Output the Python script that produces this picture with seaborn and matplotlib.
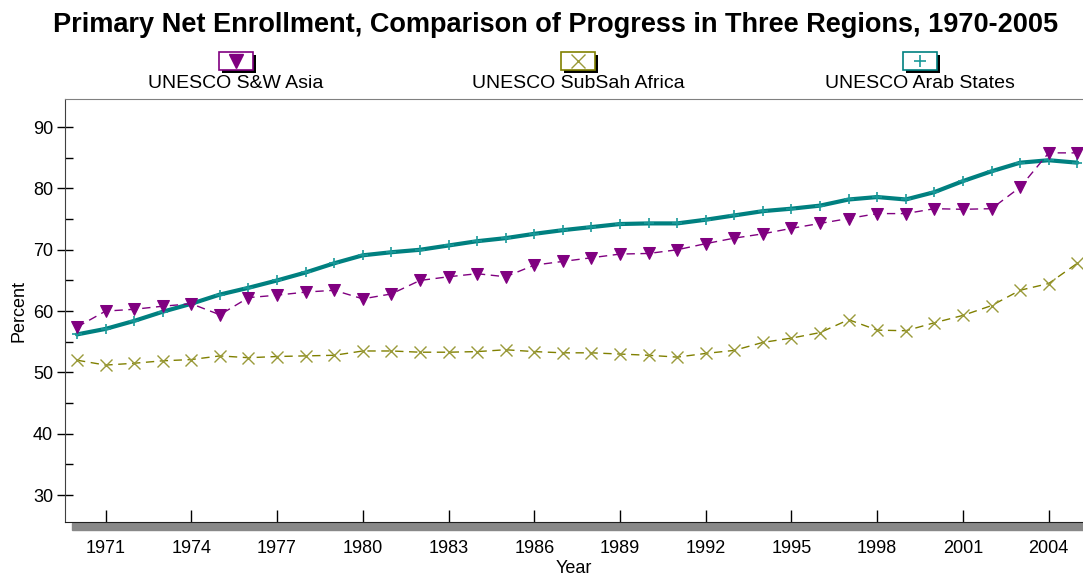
"""Primary net enrollment, three UNESCO regions, 1970-2005."""
import matplotlib
matplotlib.use("Agg")
import matplotlib.pyplot as plt
import numpy as np
import pandas as pd
import seaborn as sns
from matplotlib.lines import Line2D
from matplotlib.patches import Rectangle
from matplotlib.ticker import MultipleLocator

YEARS = list(range(1970, 2006))

SW_ASIA = [57.4, 60.0, 60.3, 60.8, 61.2, 59.4, 62.2, 62.6, 63.1, 63.4, 62.0, 62.8,
           65.0, 65.6, 66.1, 65.6, 67.5, 68.1, 68.7, 69.3, 69.4, 70.0, 71.0, 71.9,
           72.6, 73.5, 74.3, 75.1, 75.9, 75.9, 76.7, 76.6, 76.7, 80.2, 85.8, 85.8]
SUBSAH_AFRICA = [52.0, 51.2, 51.5, 51.9, 52.1, 52.7, 52.4, 52.6, 52.7, 52.8, 53.5, 53.5,
                 53.3, 53.3, 53.4, 53.7, 53.4, 53.2, 53.2, 53.0, 52.8, 52.5, 53.1, 53.6,
                 54.9, 55.6, 56.5, 58.6, 56.9, 56.8, 58.1, 59.3, 60.9, 63.4, 64.5, 67.8]
ARAB_STATES = [56.2, 57.1, 58.4, 59.9, 61.2, 62.7, 63.8, 65.0, 66.3, 67.8, 69.1, 69.6,
               70.0, 70.7, 71.4, 71.9, 72.6, 73.2, 73.7, 74.2, 74.3, 74.3, 74.9, 75.6,
               76.3, 76.7, 77.2, 78.2, 78.6, 78.2, 79.4, 81.2, 82.8, 84.2, 84.6, 84.2]

LABELS = ["UNESCO S&W Asia", "UNESCO SubSah Africa", "UNESCO Arab States"]
XTICKS = list(range(1971, 2005, 3))

sns.set_style("ticks")
plt.rcParams["font.family"] = ["Liberation Sans", "DejaVu Sans"]
plt.rcParams["text.color"] = "black"
plt.rcParams["axes.labelcolor"] = "black"
plt.rcParams["xtick.color"] = "black"
plt.rcParams["ytick.color"] = "black"

df = pd.DataFrame({"Year": YEARS, LABELS[0]: SW_ASIA,
                   LABELS[1]: SUBSAH_AFRICA, LABELS[2]: ARAB_STATES})

styles = {
    LABELS[0]: dict(color="#800080", lw=1.0, ls=(0, (6, 4)), marker="v", ms=8,
                    mfc="#800080", mec="#800080", zorder=4),
    LABELS[1]: dict(color="#808000", lw=1.0, ls=(0, (6, 4)), marker="x", ms=8,
                    mew=1.0, mec="#9a9a3a", zorder=3),
    LABELS[2]: dict(color="#008080", lw=3.0, ls="-", marker="+", ms=7,
                    mew=1.2, mec="#1a9a9a", zorder=3),
}

fig = plt.figure(figsize=(10.83, 5.75), dpi=100)
ax = fig.add_axes([0.060, 0.092, 0.940, 0.736])

for name in [LABELS[1], LABELS[2], LABELS[0]]:
    sns.lineplot(data=df, x="Year", y=name, ax=ax, **styles[name])

ax.set_xlim(1969.58, 2005.2)
ax.set_ylim(25.6, 94.6)
ax.set_xticks(XTICKS)
ax.yaxis.set_major_locator(MultipleLocator(10))
ax.yaxis.set_minor_locator(MultipleLocator(5))
ax.set_yticks(range(30, 91, 10))
ax.tick_params(axis="x", direction="in", length=8.5, width=1, labelsize=13, pad=13)
ax.tick_params(axis="y", which="major", direction="inout", length=12, width=1,
               labelsize=13, pad=2.5)
ax.tick_params(axis="y", which="minor", direction="in", length=6, width=1)
ax.set_xlabel("Year", fontsize=13, labelpad=2)
ax.set_ylabel("Percent", fontsize=13, labelpad=4)

ax.spines["right"].set_visible(False)
ax.spines["top"].set_color("#808080")
ax.spines["left"].set_color("#404040")
ax.spines["bottom"].set_color("#202020")
ax.add_patch(Rectangle((0.007, -0.018), 1.0, 0.017, transform=ax.transAxes,
                       color="#888888", clip_on=False, zorder=1))

fig.text(0.513, 0.957, "Primary Net Enrollment, Comparison of Progress in Three Regions, 1970-2005",
         ha="center", va="center", fontsize=19.5, fontweight="bold")

# legend: boxed marker above each label
leg_x = [236 / 1083, 578 / 1083, 920 / 1083]
bw, bh = 34 / 1083, 18 / 575
by = 1 - 70 / 575
for cx, name in zip(leg_x, LABELS):
    st = styles[name]
    fig.add_artist(Rectangle((cx - bw / 2 + 3 / 1083, by - 3 / 575), bw, bh,
                             transform=fig.transFigure, color="black", lw=0))
    fig.add_artist(Rectangle((cx - bw / 2, by), bw, bh, transform=fig.transFigure,
                             facecolor="white", edgecolor=st["color"], lw=1.2))
    fig.add_artist(Line2D([cx], [by + bh / 2], transform=fig.transFigure,
                          marker=st["marker"], ms=st["ms"] + 2, color=st["color"],
                          mec=st.get("mec", st["color"]), mew=st.get("mew", 1.0), ls=""))
    fig.text(cx, 1 - 84 / 575, name, ha="center", va="center", fontsize=14)

fig.savefig("out.png", dpi=100)
